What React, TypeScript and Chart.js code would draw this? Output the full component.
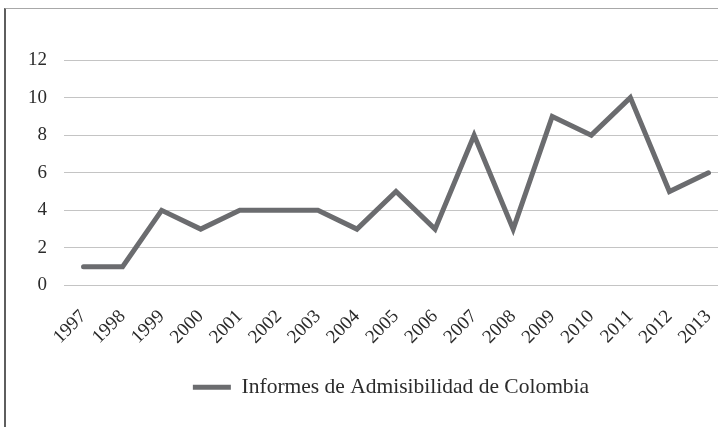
import React, { useEffect, useRef } from "react";
import { Chart, registerables } from "chart.js";

Chart.register(...registerables);

const years = [
  "1997", "1998", "1999", "2000", "2001", "2002", "2003", "2004", "2005",
  "2006", "2007", "2008", "2009", "2010", "2011", "2012", "2013",
];
const informes = [1, 1, 4, 3, 4, 4, 4, 3, 5, 3, 8, 3, 9, 8, 10, 5, 6];
const seriesLabel = "Informes de Admisibilidad de Colombia";

const FONT = "'Liberation Serif', 'Times New Roman', serif";
const LINE = "#6b6c6f";

// nudges the legend so it sits under the visible part of the plot
const legendShift = {
  id: "legendShift",
  afterLayout(chart: any) {
    const lg = chart.legend;
    if (lg) {
      lg.left += 27;
      lg.right += 27;
    }
  },
};

export default function App() {
  const ref = useRef<HTMLCanvasElement>(null);

  useEffect(() => {
    if (!ref.current) return;
    const chart = new Chart(ref.current, {
      type: "line",
      data: {
        labels: years,
        datasets: [
          {
            label: seriesLabel,
            data: informes,
            borderColor: LINE,
            backgroundColor: LINE,
            borderWidth: 5,
            borderCapStyle: "round",
            borderJoinStyle: "miter",
            pointRadius: 0,
            tension: 0,
          },
        ],
      },
      options: {
        animation: false,
        responsive: false,
        maintainAspectRatio: false,
        layout: { padding: { left: 0, right: 17, top: 60, bottom: 19 } },
        plugins: {
          tooltip: { enabled: false },
          legend: {
            position: "bottom",
            labels: {
              usePointStyle: true,
              pointStyle: "line",
              pointStyleWidth: 38,
              color: "#2b2b2b",
              font: { family: FONT, size: 21.5 },
              padding: 10,
            },
          },
        },
        scales: {
          x: {
            offset: true,
            grid: { display: false },
            border: { display: false },
            ticks: {
              minRotation: 45,
              maxRotation: 45,
              autoSkip: false,
              padding: 12,
              color: "#2b2b2b",
              font: { family: FONT, size: 19 },
            },
            afterFit(scale: any) {
              scale.height = 81;
            },
          },
          y: {
            min: 0,
            max: 12,
            grid: { color: "#c4c4c4", lineWidth: 1, drawTicks: false },
            border: { display: false },
            ticks: {
              stepSize: 2,
              padding: 17,
              color: "#2b2b2b",
              font: { family: FONT, size: 19 },
            },
            afterFit(scale: any) {
              scale.width = 64;
            },
          },
        },
      },
      plugins: [legendShift],
    });
    return () => chart.destroy();
  }, []);

  return (
    <div
      style={{
        position: "fixed",
        left: 0,
        top: 0,
        width: 718,
        height: 427,
        overflow: "hidden",
        background: "#fff",
      }}
    >
      <canvas
        ref={ref}
        width={745}
        height={427}
        style={{ position: "absolute", left: 0, top: 0, width: 745, height: 427 }}
      />
      <div
        style={{
          position: "absolute",
          left: 4,
          top: 8,
          width: 760,
          height: 440,
          borderLeft: "2px solid #5e5e5e",
          borderTop: "1px solid #a8a8a8",
          pointerEvents: "none",
        }}
      />
    </div>
  );
}
